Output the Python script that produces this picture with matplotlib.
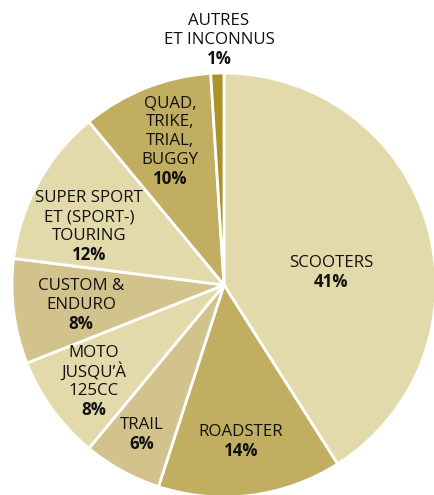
import matplotlib
matplotlib.use("Agg")
import matplotlib.pyplot as plt

categories = ["SCOOTERS", "ROADSTER", "TRAIL", "MOTO\nJUSQU’À\n125CC", "CUSTOM &\nENDURO",
              "SUPER SPORT\nET (SPORT-)\nTOURING", "QUAD,\nTRIKE,\nTRIAL,\nBUGGY", "AUTRES\nET INCONNUS"]
values = [41, 14, 6, 8, 8, 12, 10, 1]
colors = ["#e3daab", "#c2ae60", "#d2c38d", "#e3daab", "#d2c38d", "#e3daab", "#c2ae60", "#a9932b"]

# label anchor positions in pixels (x center, y of first line)
label_px = [(331, 263), (241, 432), (142, 425), (94, 353), (81, 286), (89, 198), (170, 103), (219, 21)]

W, H = 434, 495
CX, CY, R = 224, 285, 212
fig = plt.figure(figsize=(W / 100, H / 100), dpi=100)
ax = fig.add_axes([0, 0, 1, 1])

ax.pie(values, colors=colors, startangle=90, counterclock=False, radius=1.0,
       wedgeprops=dict(edgecolor="white", linewidth=2))
ax.set_aspect("auto")
ax.set_xlim(-CX / R, (W - CX) / R)
ax.set_ylim(-(H - CY) / R, CY / R)
ax.axis("off")

font = "Open Sans"
step = 19
for cat, val, (px, py) in zip(categories, values, label_px):
    lines = cat.split("\n")
    for i, ln in enumerate(lines):
        y = py + i * step
        ax.text((px - CX) / R, (CY - y) / R, ln, ha="center", va="center",
                fontsize=12.2, family=font, color="#111111")
    y = py + len(lines) * step
    ax.text((px - CX) / R, (CY - y) / R, f"{val}%", ha="center", va="center",
            fontsize=12.2, family=font, fontweight="bold", color="#111111")

fig.savefig("out.png", dpi=100)
